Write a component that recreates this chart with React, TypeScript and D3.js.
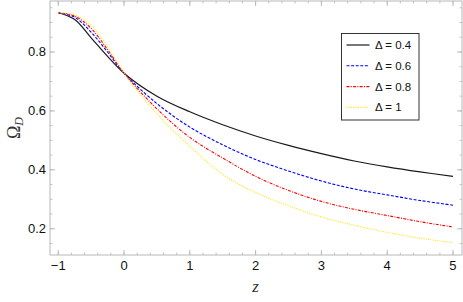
import React from "react";
import * as d3 from "d3";

// redshift grid and Omega_D values
const zValues = [-1, -0.75, -0.5, -0.25, 0, 0.5, 1, 1.5, 2, 2.5, 3, 3.5, 4, 4.5, 5];
const omega04 = [0.933, 0.91, 0.848, 0.785, 0.728, 0.65, 0.597, 0.553, 0.515, 0.483, 0.455, 0.43, 0.41, 0.393, 0.378];
const omega06 = [0.933, 0.918, 0.867, 0.8, 0.728, 0.625, 0.545, 0.485, 0.435, 0.396, 0.362, 0.335, 0.315, 0.296, 0.28];
const omega08 = [0.933, 0.922, 0.88, 0.808, 0.728, 0.607, 0.51, 0.44, 0.378, 0.33, 0.293, 0.266, 0.245, 0.224, 0.206];
const omega1 = [0.933, 0.926, 0.89, 0.818, 0.728, 0.59, 0.48, 0.385, 0.323, 0.278, 0.24, 0.212, 0.188, 0.168, 0.153];

const xTicks = [-1, 0, 1, 2, 3, 4, 5];
const yTicks = [0.2, 0.4, 0.6, 0.8];

const series = [
  { label: "Δ = 0.4", values: omega04, color: "#1a1a1a", dash: "", width: 1.2 },
  { label: "Δ = 0.6", values: omega06, color: "#0000ff", dash: "3,1.6", width: 1.1 },
  { label: "Δ = 0.8", values: omega08, color: "#ff0000", dash: "3,1.3,1,1.3", width: 1.1 },
  { label: "Δ = 1", values: omega1, color: "#ffe600", dash: "1,1.3", width: 1.1 },
];

const serif = "'Liberation Serif', 'Times New Roman', serif";

export default function App() {
  const W = 463;
  const H = 302;
  const left = 50, right = 462, top = 1, bottom = 255;

  const x = d3.scaleLinear().domain([-1.125, 5.137]).range([left, right]);
  const y = d3.scaleLinear().domain([0.111, 0.973]).range([bottom, top]);

  const line = d3
    .line<number>()
    .x((_, i) => x(zValues[i]))
    .y((d) => y(d))
    .curve(d3.curveCatmullRom.alpha(0.5));

  const xMinor = d3.range(-1.0, 5.01, 0.2).filter((v) => v >= -1.125);
  const yMinor = d3.range(0.15, 0.97, 0.05);
  const frame = "#b8b8b8";

  const lx = 341.5, ly = 33.5, lw = 77.5, lh = 86.5;

  return (
    <svg
      width={W}
      height={H}
      style={{ position: "absolute", left: 0, top: 0, background: "#fff" }}
      fontFamily="'Liberation Sans', Arial, sans-serif"
    >
      <defs>
        <clipPath id="plot">
          <rect x={left} y={top} width={right - left} height={bottom - top} />
        </clipPath>
      </defs>

      {/* frame */}
      <rect x={left} y={top} width={right - left} height={bottom - top} fill="none" stroke={frame} strokeWidth={1} />

      {/* x ticks, bottom and top */}
      {xMinor.map((v, i) => (
        <g key={"xm" + i} stroke={frame} strokeWidth={0.8}>
          <line x1={x(v)} x2={x(v)} y1={bottom} y2={bottom - 2.5} />
          <line x1={x(v)} x2={x(v)} y1={top} y2={top + 2.5} />
        </g>
      ))}
      {xTicks.map((v) => (
        <g key={"x" + v}>
          <line x1={x(v)} x2={x(v)} y1={bottom} y2={bottom - 5} stroke={frame} />
          <line x1={x(v)} x2={x(v)} y1={top} y2={top + 5} stroke={frame} />
          <text x={x(v)} y={bottom + 15} fontSize={13} textAnchor="middle" fill="#111">
            {v < 0 ? "−" + Math.abs(v) : v}
          </text>
        </g>
      ))}

      {/* y ticks, left and right */}
      {yMinor.map((v, i) => (
        <g key={"ym" + i} stroke={frame} strokeWidth={0.8}>
          <line x1={left} x2={left + 2.5} y1={y(v)} y2={y(v)} />
          <line x1={right} x2={right - 2.5} y1={y(v)} y2={y(v)} />
        </g>
      ))}
      {yTicks.map((v) => (
        <g key={"y" + v}>
          <line x1={left} x2={left + 5} y1={y(v)} y2={y(v)} stroke={frame} />
          <line x1={right} x2={right - 5} y1={y(v)} y2={y(v)} stroke={frame} />
          <text x={left - 4} y={y(v) + 4.5} fontSize={13} textAnchor="end" fill="#111">
            {v.toFixed(1)}
          </text>
        </g>
      ))}

      {/* curves */}
      <g clipPath="url(#plot)">
        {series.map((s) => (
          <path
            key={s.label}
            d={line(s.values) || ""}
            fill="none"
            stroke={s.color}
            strokeWidth={s.width}
            strokeDasharray={s.dash}
          />
        ))}
      </g>

      {/* axis titles */}
      <text x={x(2)} y={292} fontSize={17} fontStyle="italic" textAnchor="middle" fontFamily={serif} fill="#333">
        z
      </text>
      <text
        transform={`translate(20,${(top + bottom) / 2}) rotate(-90)`}
        fontSize={18}
        textAnchor="middle"
        fontFamily={serif}
        fill="#333"
      >
        Ω
        <tspan fontSize={12} fontStyle="italic" dy={3}>D</tspan>
      </text>

      {/* legend */}
      <rect x={lx} y={ly} width={lw} height={lh} fill="#fff" stroke="#333" strokeWidth={1} />
      {series.map((s, i) => {
        const ry = 45 + i * 20.8;
        return (
          <g key={"lg" + i}>
            <line x1={346.5} x2={369.5} y1={ry} y2={ry} stroke={s.color} strokeWidth={s.width} strokeDasharray={s.dash} />
            <text x={375} y={ry + 4} fontSize={11.5} fill="#111">
              {s.label}
            </text>
          </g>
        );
      })}
    </svg>
  );
}
